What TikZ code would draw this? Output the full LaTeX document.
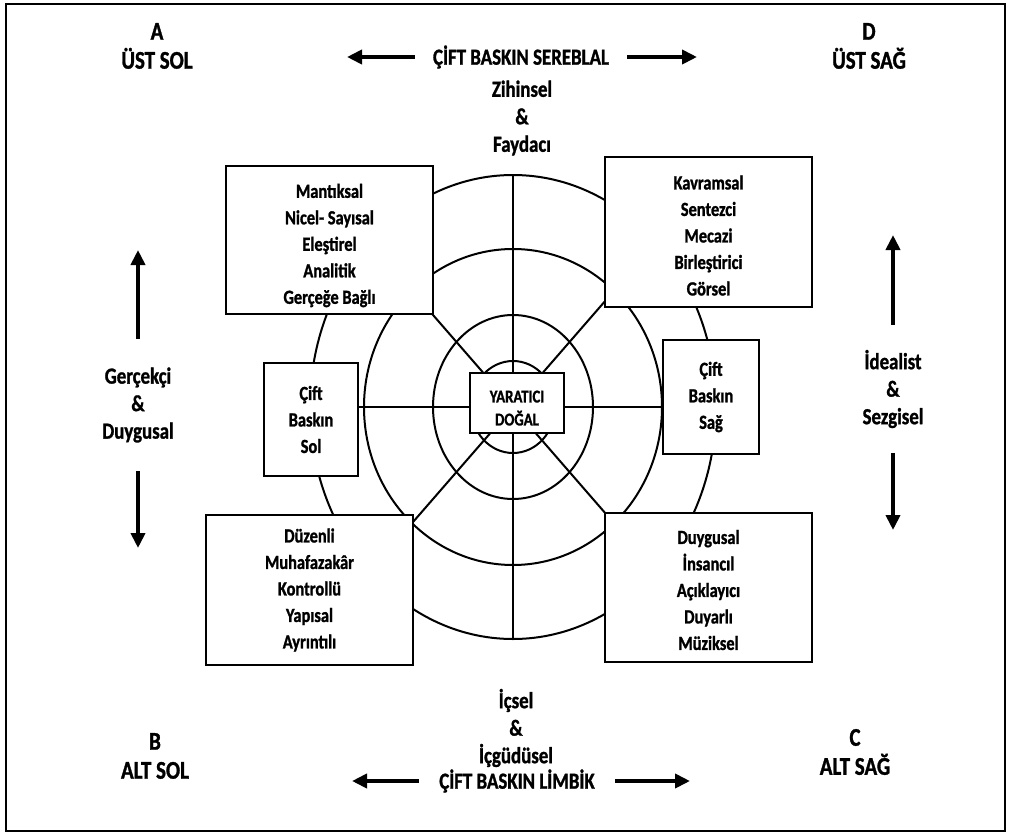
\documentclass[tikz,border=0pt]{standalone}
\usepackage{fontspec}
\setmainfont{Carlito}[FakeStretch=0.82,BoldFeatures={FakeBold=1.2}]
\usetikzlibrary{arrows.meta,positioning}
\newcommand{\dropline}[1]{\rule{0pt}{#1}}

\begin{document}
\begin{tikzpicture}[x=1pt,y=-1pt,
    ring/.style={line width=2pt},
    card/.style={draw,line width=2pt,fill=white,align=center,inner sep=0pt,font=\fontsize{20}{26.5}\selectfont\bfseries},
    lbl/.style={align=center,inner sep=0pt,font=\fontsize{23}{27.5}\selectfont\bfseries},
    corner/.style={align=center,inner sep=0pt,font=\fontsize{25.5}{29}\selectfont\bfseries},
    fat/.style={line width=4.5pt,-{Triangle[length=15pt,width=14pt]}}
]
\useasboundingbox (0,0) rectangle (1012,835);
\draw[line width=2pt] (6,4) rectangle (1005,831);

% rings and spokes
\coordinate (c) at (513,407);
\foreach \a/\b in {203/232,149/158,80/92,42/46}
    \draw[ring] (c) ellipse [x radius=\a, y radius=\b];
\draw[ring] (c) ++(0,-232) -- ++(0,464);
\draw[ring] (c) ++(-203,0) -- ++(406,0);
\foreach \t in {49,131,229,311}
    \draw[ring] (c) -- ++(\t:215);

% boxes
\node[card,minimum width=207pt,minimum height=148pt] (logic) at (329.5,240) {\dropline{25pt}Mantıksal\\Nicel- Sayısal\\Eleştirel\\Analitik\\Gerçeğe Bağlı};
\node[card,minimum width=207pt,minimum height=150pt] (concept) at (708.5,232) {\dropline{21pt}Kavramsal\\Sentezci\\Mecazi\\Birleştirici\\Görsel};
\node[card,minimum width=94pt,minimum height=113pt] (dualL) at (311,419.5) {Çift\\Baskın\\Sol};
\node[card,minimum width=96pt,minimum height=114pt] (dualR) at (711,397) {Çift\\Baskın\\Sağ};
\node[card,minimum width=207pt,minimum height=150pt] (order) at (309.5,590) {Düzenli\\Muhafazakâr\\Kontrollü\\Yapısal\\Ayrıntılı};
\node[card,minimum width=207pt,minimum height=149pt] (feel) at (708.5,587.5) {\dropline{19pt}Duygusal\\İnsancıl\\Açıklayıcı\\Duyarlı\\Müziksel};
\node[card,minimum width=94pt,minimum height=60pt,font=\fontsize{18}{23}\selectfont\bfseries] (core) at (517,403) {\dropline{22pt}YARATICI\\DOĞAL};

% corners
\node[corner] (cornA) at (157,46) {A\\ÜST SOL};
\node[corner] (cornD) at (869,46) {D\\ÜST SAĞ};
\node[corner] (cornB) at (155,756) {B\\ALT SOL};
\node[corner] (cornC) at (855,752) {C\\ALT SAĞ};

% top and bottom
\node[lbl,inner xsep=18pt] (sereb) at (521,57) {ÇİFT BASKIN SEREBLAL};
\node[lbl] (zihin) at (522,118) {Zihinsel\\\&\\Faydacı};
\coordinate (serebL) at (347,58);
\coordinate (serebR) at (697,58);
\draw[fat] (sereb.west) -- (sereb.west -| serebL);
\draw[fat] (sereb.east) -- (sereb.east -| serebR);

\node[lbl] (icsel) at (516,728) {İçsel\\\&\\İçgüdüsel};
\node[lbl,inner xsep=20pt] (limbik) at (517,781) {ÇİFT BASKIN LİMBİK};
\coordinate (limbikL) at (352,781);
\coordinate (limbikR) at (690,781);
\draw[fat] (limbik.west) -- (limbik.west -| limbikL);
\draw[fat] (limbik.east) -- (limbik.east -| limbikR);

% sides
\node[lbl,minimum height=132pt] (gercek) at (138,405) {Gerçekçi\\\&\\Duygusal};
\coordinate (gercekU) at (138,250);
\coordinate (gercekD) at (138,548);
\draw[fat] (gercek.north) -- (gercekU);
\draw[fat] (gercek.south) -- (gercekD);

\node[lbl,minimum height=128pt] (ideal) at (893,389) {İdealist\\\&\\Sezgisel};
\coordinate (idealU) at (893,235);
\coordinate (idealD) at (893,530);
\draw[fat] (ideal.north) -- (idealU);
\draw[fat] (ideal.south) -- (idealD);
\end{tikzpicture}
\end{document}
